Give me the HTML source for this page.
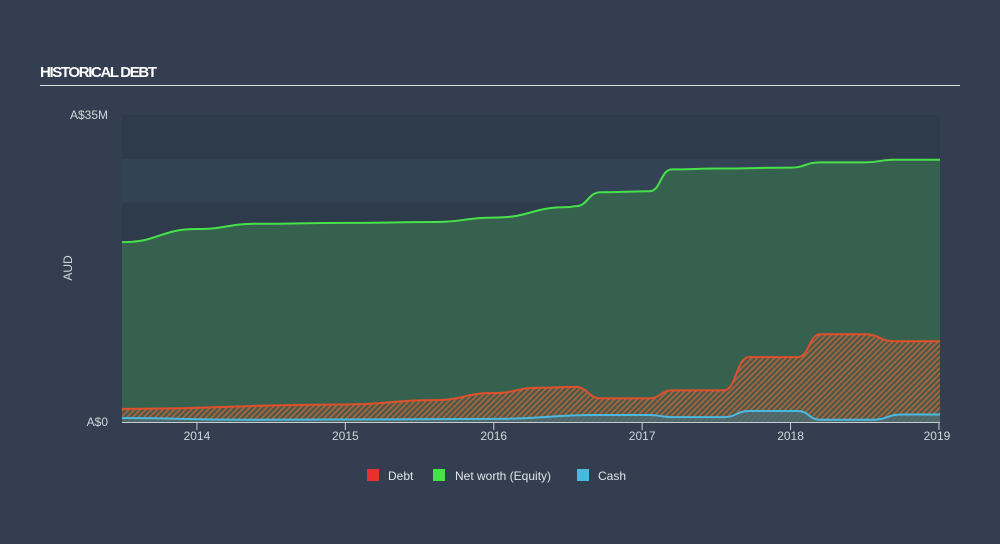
<!DOCTYPE html>
<html><head><meta charset="utf-8"><style>
body{margin:0;background:#333f50;}
svg{display:block;font-family:"Liberation Sans",sans-serif;}
</style></head><body>
<svg width="1000" height="544" viewBox="0 0 1000 544">
<defs>
<pattern id="hatch" width="4" height="4" patternUnits="userSpaceOnUse" patternTransform="rotate(45)">
<rect width="4" height="4" fill="#4a5a48"/>
<rect width="1.6" height="4" fill="#b0643f"/>
</pattern>
</defs>
<rect width="1000" height="544" fill="#333f50"/>
<text x="40" y="77" fill="#fff" font-size="15" font-weight="bold" textLength="117">HISTORICAL DEBT</text>
<rect x="40" y="85" width="920" height="1" fill="#d8dde2"/>
<g id="plot"></g>
<text x="108" y="119" fill="#d0d5db" font-size="12" text-anchor="end">A$35M</text>
<text x="108" y="426" fill="#d0d5db" font-size="12" text-anchor="end">A$0</text>
<text x="72" y="268" fill="#d0d5db" font-size="12" text-anchor="middle" transform="rotate(-90 72 268)">AUD</text>
<g id="xticks"></g>
<g>
<rect x="367" y="469" width="12" height="12" fill="#e8312e"/>
<text x="388" y="480" fill="#e0e4e8" font-size="12">Debt</text>
<rect x="433" y="469" width="12" height="12" fill="#47e24a"/>
<text x="455" y="480" fill="#e0e4e8" font-size="12">Net worth (Equity)</text>
<rect x="577" y="469" width="12" height="12" fill="#49b9e0"/>
<text x="598" y="480" fill="#e0e4e8" font-size="12">Cash</text>
</g>
</svg>
<script>
const equityT=[2013.5,2014.0,2014.4,2015.0,2015.6,2016.0,2016.5,2016.55,2016.72,2017.05,2017.2,2017.5,2018.0,2018.2,2018.5,2018.7,2019.0];
const equityV=[20.5,22.0,22.6,22.7,22.8,23.3,24.5,24.6,26.2,26.3,28.8,28.9,29.0,29.6,29.6,29.9,29.9];
const debtT=[2013.5,2015.0,2015.6,2016.0,2016.3,2016.55,2016.72,2017.05,2017.2,2017.55,2017.72,2018.05,2018.2,2018.5,2018.7,2019.0];
const debtV=[1.5,2.0,2.5,3.3,3.9,4.0,2.7,2.7,3.6,3.6,7.4,7.4,10.0,10.0,9.2,9.2];
const cashT=[2013.5,2014.3,2016.0,2016.7,2017.05,2017.2,2017.55,2017.72,2018.05,2018.2,2018.55,2018.75,2019.0];
const cashV=[0.45,0.25,0.35,0.8,0.8,0.55,0.55,1.25,1.25,0.25,0.25,0.85,0.85];
const yearTicks=[2014,2015,2016,2017,2018,2019];
const yMax=35, tMin=2013.495, tMax=2019.007;
const X0=122,X1=940,Y0=422,Y1=115;
const sx=t=>X0+(t-tMin)/(tMax-tMin)*(X1-X0);
const sy=v=>Y0-v/yMax*(Y0-Y1);
const NS="http://www.w3.org/2000/svg";
function mk(tag,attrs,parent){const e=document.createElementNS(NS,tag);for(const k in attrs)e.setAttribute(k,attrs[k]);parent.appendChild(e);return e;}
function linePath(T,V){let d="";for(let i=0;i<T.length;i++){const x=i==0?X0:(i==T.length-1?X1:sx(T[i])),y=sy(V[i]);if(i==0)d+="M"+x+","+y;else{const px=i-1==0?X0:sx(T[i-1]),py=sy(V[i-1]),mx=(px+x)/2;d+=" C"+mx+","+py+" "+mx+","+y+" "+x+","+y;}}return d;}
const plot=document.getElementById('plot');
const bands=[[30,35,"#2d3b4b"],[25,30,"#334254"],[0,25,"#2d3b4b"]];
bands.forEach(b=>{const r=mk('rect',{x:X0,y:sy(b[1]),width:X1-X0,height:sy(b[0])-sy(b[1]),fill:b[2]},plot);

});
const eq=linePath(equityT,equityV),de=linePath(debtT,debtV),ca=linePath(cashT,cashV);
const close=" L"+X1+","+Y0+" L"+X0+","+Y0+" Z";
let e=mk('path',{d:eq+close,fill:"#36614f"},plot);


e=mk('path',{d:de+close,fill:"url(#hatch)"},plot);


e=mk('path',{d:ca+close,fill:"#4a6b74",opacity:"0.8"},plot);


e=mk('path',{d:eq,fill:"none",stroke:"#47e24a","stroke-width":2},plot);


e=mk('path',{d:de,fill:"none",stroke:"#e0502c","stroke-width":2},plot);


e=mk('path',{d:ca,fill:"none",stroke:"#49b9e0","stroke-width":2},plot);


e=mk('line',{x1:X0,x2:X1,y1:Y0+0.5,y2:Y0+0.5,stroke:"#c8cdd3","stroke-width":1},plot);


const xt=document.getElementById('xticks');
yearTicks.forEach(y=>{const x=sx(y);
let l=mk('line',{x1:x,x2:x,y1:Y0,y2:Y0+8,stroke:"#c8cdd3","stroke-width":1},xt);


let t=mk('text',{x:y==2019?x-2:x,y:440,fill:"#d0d5db","font-size":12,"text-anchor":"middle"},xt);
t.textContent=y;

});
</script>
</body></html>
